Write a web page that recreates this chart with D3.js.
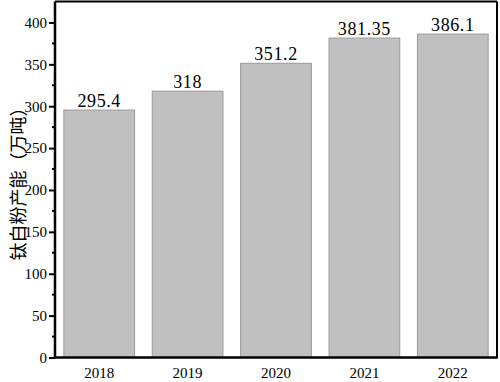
<!DOCTYPE html>
<html><head><meta charset="utf-8">
<script src="https://cdn.jsdelivr.net/npm/d3@7"></script>
<style>body{margin:0;background:#fff}svg{display:block}
.val{font-family:"Liberation Serif",serif;font-size:18px;letter-spacing:0.6px}
.tk{font-family:"Liberation Serif",serif;font-size:15px}
</style>
</head><body>
<svg id="c" width="500" height="382"></svg>
<script>
const categories = ["2018","2019","2020","2021","2022"];
const values = [295.4, 318, 351.2, 381.35, 386.1];
const valueLabels = ["295.4","318","351.2","381.35","386.1"];
const yTicks = [0,50,100,150,200,250,300,350,400];
const yTitle = "钛白粉产能（万吨）";

const svg = d3.select("#c");
const m = {l:55, r:497, t:1.5, b:357.5};
const x = d3.scaleBand().domain(categories).range([m.l, m.r]).paddingInner(0.2).paddingOuter(0.1);
const y = d3.scaleLinear().domain([0,425]).range([m.b, m.t]);

svg.selectAll("rect.bar").data(values).join("rect").attr("class","bar")
  .attr("x",(d,i)=>x(categories[i])).attr("width",x.bandwidth())
  .attr("y",d=>y(d)).attr("height",d=>y(0)-y(d))
  .attr("fill","#c0c0c0").attr("stroke","#9a9a9a").attr("stroke-width",1);

svg.selectAll("text.val").data(values).join("text").attr("class","val")
  .attr("x",(d,i)=>x(categories[i])+x.bandwidth()/2).attr("y",d=>y(d)-3)
  .attr("text-anchor","middle").attr("fill","#000")
  .text((d,i)=>valueLabels[i]);

// frame
svg.append("line").attr("x1",m.l).attr("x2",m.r).attr("y1",m.t).attr("y2",m.t).attr("stroke","#000").attr("stroke-width",2);
svg.append("line").attr("x1",m.r).attr("x2",m.r).attr("y1",m.t).attr("y2",m.b).attr("stroke","#000").attr("stroke-width",2);

// y axis
const ya = svg.append("g").attr("transform",`translate(${m.l},0)`)
  .call(d3.axisLeft(y).tickValues(yTicks).tickSize(6).tickPadding(2));
ya.select(".domain").attr("stroke-width",2.5).attr("d",`M0,${m.t}V${m.b}`);
ya.selectAll(".tick line").attr("stroke-width",2);
ya.selectAll("text").attr("class","tk").attr("font-family",null).attr("font-size",null).attr("fill","#000");
// minor ticks
const minor = yTicks.map(v=>v+25).filter(v=>v<425);
svg.append("g").selectAll("line").data(minor).join("line")
  .attr("x1",m.l-3).attr("x2",m.l).attr("y1",d=>y(d)).attr("y2",d=>y(d))
  .attr("stroke","#000").attr("stroke-width",2);

// x axis
const xa = svg.append("g").attr("transform",`translate(0,${m.b})`)
  .call(d3.axisBottom(x).tickSize(0).tickPadding(10));
xa.select(".domain").attr("stroke-width",2.5).attr("d",`M${m.l-1},0H${m.r+1}`);
xa.selectAll("text").attr("class","tk").attr("fill","#000");
xa.attr("font-family",null).attr("font-size",null);
ya.attr("font-family",null).attr("font-size",null);

svg.append("text").attr("transform",`translate(25,${(m.t+m.b)/2}) rotate(-90)`)
  .attr("text-anchor","middle").style("font-family","'Noto Sans CJK SC'").style("font-size","18px")
  .text(yTitle);
</script>
</body></html>
